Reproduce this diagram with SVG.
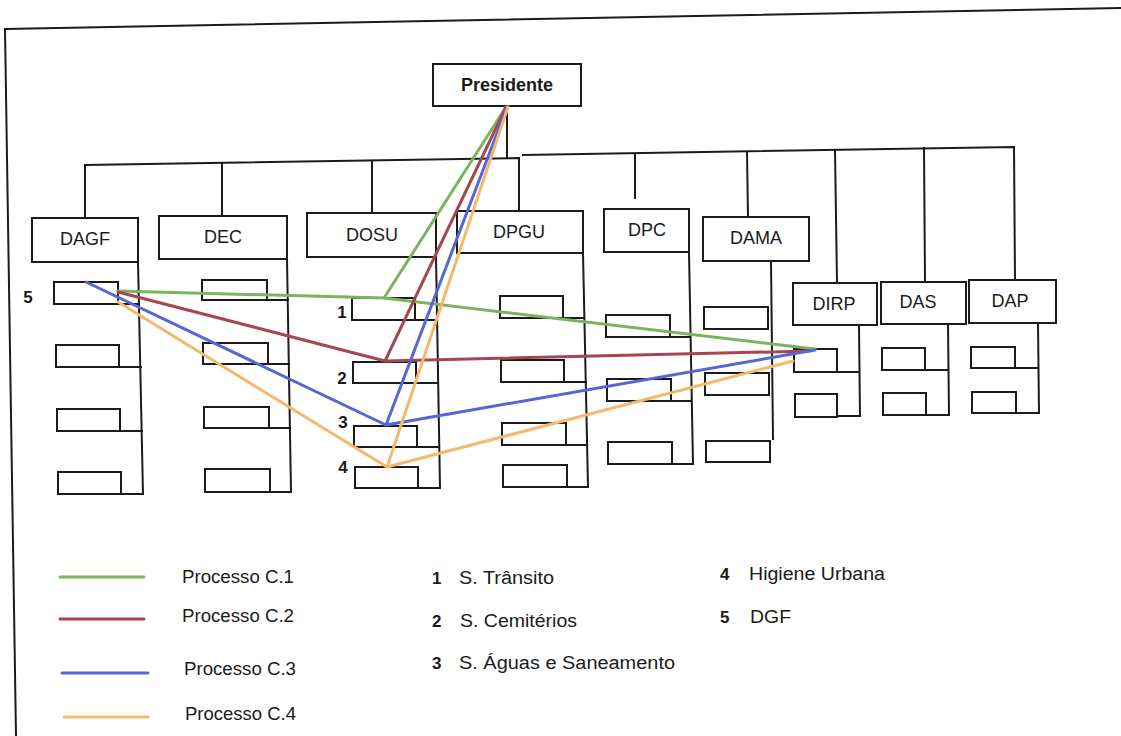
<svg xmlns="http://www.w3.org/2000/svg" width="1121" height="736" viewBox="0 0 1121 736">
  <style>
    .box { fill: #ffffff; stroke: #1b1b1b; stroke-width: 2; }
    .ln { fill: none; stroke: #1b1b1b; stroke-width: 2; stroke-linecap: square; }
    .lbl { font-family: "Liberation Sans", Arial, sans-serif; font-size: 18px; fill: #1a1a1a; text-anchor: middle; }
    .txt { font-family: "Liberation Sans", Arial, sans-serif; font-size: 18px; fill: #1a1a1a; }
    .num { font-family: "Liberation Sans", Arial, sans-serif; font-size: 17px; font-weight: bold; fill: #1a1a1a; }
    .proc { fill: none; stroke-width: 3; stroke-linejoin: round; stroke-linecap: round; }
    .c1 { stroke: #7ab45c; }
    .c2 { stroke: #a6464f; }
    .c3 { stroke: #5566d8; }
    .c4 { stroke: #f5b86c; }
  </style>

  <rect width="1121" height="736" fill="#ffffff"/>

  <!-- page frame -->
  <path class="ln" d="M1121,8 L5,29 L16,736" stroke-width="2.2"/>

  <!-- org tree connectors -->
  <g id="connectors">
    <path class="ln" d="M507,106 L507,158"/>
    <path class="ln" d="M85,218 L85,165 L519,158 L519,211"/>
    <path class="ln" d="M222,164 L222,216"/>
    <path class="ln" d="M372,161 L372,213"/>
    <path class="ln" d="M523,155 L1014,147 L1015,280"/>
    <path class="ln" d="M635,154 L635,198"/>
    <path class="ln" d="M747,152 L748,217"/>
    <path class="ln" d="M835,150 L837,283"/>
    <path class="ln" d="M924,148 L925,282"/>
  </g>

  <g id="presidente">
    <rect class="box" x="433" y="64" width="148" height="42"/>
    <text class="lbl" x="507" y="91" font-weight="bold" font-size="17">Presidente</text>
  </g>

  <g id="dagf">
    <rect class="box" x="32" y="218" width="106" height="44"/>
    <text class="lbl" x="85" y="245">DAGF</text>
    <path class="ln" d="M138,262 L143,494"/>
    <rect class="box" x="54" y="282" width="64" height="22"/>
    <rect class="box" x="56" y="345" width="63" height="22"/>
    <rect class="box" x="57" y="409" width="63" height="22"/>
    <rect class="box" x="58" y="472" width="63" height="22"/>
    <path class="ln" d="M118,304 L139,304 M119,367 L141,367 M120,431 L142,431 M121,494 L143,494"/>
  </g>

  <g id="dec">
    <rect class="box" x="159" y="216" width="128" height="43"/>
    <text class="lbl" x="223" y="243">DEC</text>
    <path class="ln" d="M287,259 L291,492"/>
    <rect class="box" x="202" y="280" width="65" height="20"/>
    <rect class="box" x="203" y="343" width="65" height="21"/>
    <rect class="box" x="204" y="407" width="65" height="21"/>
    <rect class="box" x="205" y="469" width="65" height="23"/>
    <path class="ln" d="M267,300 L288,300 M268,364 L289,364 M269,428 L290,428 M270,492 L291,492"/>
  </g>

  <g id="dosu">
    <rect class="box" x="307" y="213" width="129" height="44"/>
    <text class="lbl" x="372" y="241">DOSU</text>
    <path class="ln" d="M436,257 L440,488"/>
    <rect class="box" x="352" y="298" width="63" height="22"/>
    <rect class="box" x="353" y="362" width="63" height="21"/>
    <rect class="box" x="354" y="426" width="63" height="21"/>
    <rect class="box" x="355" y="467" width="63" height="21"/>
    <path class="ln" d="M415,320 L437,320 M416,383 L438,383 M417,447 L439,447 M418,488 L440,488"/>
    <text class="num" x="342" y="318" text-anchor="middle">1</text>
    <text class="num" x="342" y="384" text-anchor="middle">2</text>
    <text class="num" x="343" y="428" text-anchor="middle">3</text>
    <text class="num" x="343" y="473" text-anchor="middle">4</text>
  </g>

  <g id="dpgu">
    <rect class="box" x="457" y="211" width="126" height="42"/>
    <text class="lbl" x="519" y="238">DPGU</text>
    <path class="ln" d="M583,253 L588,487"/>
    <rect class="box" x="500" y="296" width="63" height="22"/>
    <rect class="box" x="501" y="360" width="63" height="22"/>
    <rect class="box" x="502" y="423" width="64" height="22"/>
    <rect class="box" x="503" y="465" width="64" height="22"/>
    <path class="ln" d="M563,318 L584,318 M564,382 L586,382 M566,445 L587,445 M567,487 L588,487"/>
  </g>

  <g id="dpc">
    <rect class="box" x="604" y="209" width="85" height="43"/>
    <text class="lbl" x="647" y="236">DPC</text>
    <path class="ln" d="M689,252 L693,464"/>
    <rect class="box" x="606" y="315" width="64" height="22"/>
    <rect class="box" x="607" y="379" width="64" height="22"/>
    <rect class="box" x="608" y="442" width="64" height="22"/>
    <path class="ln" d="M670,337 L690,337 M671,401 L691,401 M672,464 L693,464"/>
  </g>

  <g id="dama">
    <rect class="box" x="703" y="217" width="106" height="44"/>
    <text class="lbl" x="756" y="244">DAMA</text>
    <path class="ln" d="M771,261 L773,439"/>
    <rect class="box" x="704" y="307" width="64" height="22"/>
    <rect class="box" x="705" y="373" width="64" height="22"/>
    <rect class="box" x="706" y="441" width="64" height="21"/>
  </g>

  <g id="dirp">
    <rect class="box" x="793" y="283" width="84" height="42"/>
    <text class="lbl" x="834" y="310">DIRP</text>
    <path class="ln" d="M859,325 L860,416"/>
    <rect class="box" x="794" y="349" width="43" height="23"/>
    <rect class="box" x="795" y="394" width="42" height="23"/>
    <path class="ln" d="M837,372 L859,372 M837,416 L860,416"/>
  </g>

  <g id="das">
    <rect class="box" x="881" y="282" width="85" height="42"/>
    <text class="lbl" x="918" y="308">DAS</text>
    <path class="ln" d="M948,324 L949,415"/>
    <rect class="box" x="882" y="348" width="43" height="22"/>
    <rect class="box" x="883" y="393" width="43" height="22"/>
    <path class="ln" d="M925,370 L948,370 M926,415 L949,415"/>
  </g>

  <g id="dap">
    <rect class="box" x="969" y="280" width="87" height="43"/>
    <text class="lbl" x="1010" y="307">DAP</text>
    <path class="ln" d="M1038,323 L1039,413"/>
    <rect class="box" x="971" y="347" width="44" height="21"/>
    <rect class="box" x="972" y="392" width="44" height="21"/>
    <path class="ln" d="M1015,368 L1038,368 M1016,413 L1039,413"/>
  </g>

  <text class="num" x="28" y="303" text-anchor="middle">5</text>

  <!-- process flows -->
  <g id="processes">
    <path class="proc c1" d="M118,291 L384,298 L815,349 M384,298 L506,107"/>
    <path class="proc c2" d="M118,292 L385,361 L810,351 M385,361 L506,107"/>
    <path class="proc c3" d="M86,282 L386,425 L815,350 M386,425 L507,107"/>
    <path class="proc c4" d="M118,302 L387,467 L793,361 M387,467 L508,107"/>
  </g>

  <!-- legend -->
  <g id="legend">
    <line class="proc c1" x1="60" y1="577" x2="144" y2="577" stroke-linecap="butt"/>
    <line class="proc c2" x1="60" y1="619" x2="144" y2="619" stroke-linecap="butt"/>
    <line class="proc c3" x1="62" y1="673" x2="148" y2="673" stroke-linecap="butt"/>
    <line class="proc c4" x1="64" y1="717" x2="148" y2="717" stroke-linecap="butt"/>
    <text class="txt" x="182" y="583" textLength="112" lengthAdjust="spacingAndGlyphs">Processo C.1</text>
    <text class="txt" x="182" y="622" textLength="112" lengthAdjust="spacingAndGlyphs">Processo C.2</text>
    <text class="txt" x="184" y="675" textLength="112" lengthAdjust="spacingAndGlyphs">Processo C.3</text>
    <text class="txt" x="185" y="720" textLength="111" lengthAdjust="spacingAndGlyphs">Processo C.4</text>

    <text class="num" x="432" y="584">1</text>
    <text class="txt" x="459" y="584" textLength="95" lengthAdjust="spacingAndGlyphs">S. Trânsito</text>
    <text class="num" x="432" y="627">2</text>
    <text class="txt" x="460" y="627" textLength="117" lengthAdjust="spacingAndGlyphs">S. Cemitérios</text>
    <text class="num" x="432" y="669">3</text>
    <text class="txt" x="459" y="669" textLength="216" lengthAdjust="spacingAndGlyphs">S. Águas e Saneamento</text>
    <text class="num" x="720" y="580">4</text>
    <text class="txt" x="749" y="580" textLength="136" lengthAdjust="spacingAndGlyphs">Higiene Urbana</text>
    <text class="num" x="720" y="623">5</text>
    <text class="txt" x="750" y="623" textLength="41" lengthAdjust="spacingAndGlyphs">DGF</text>
  </g>
</svg>
